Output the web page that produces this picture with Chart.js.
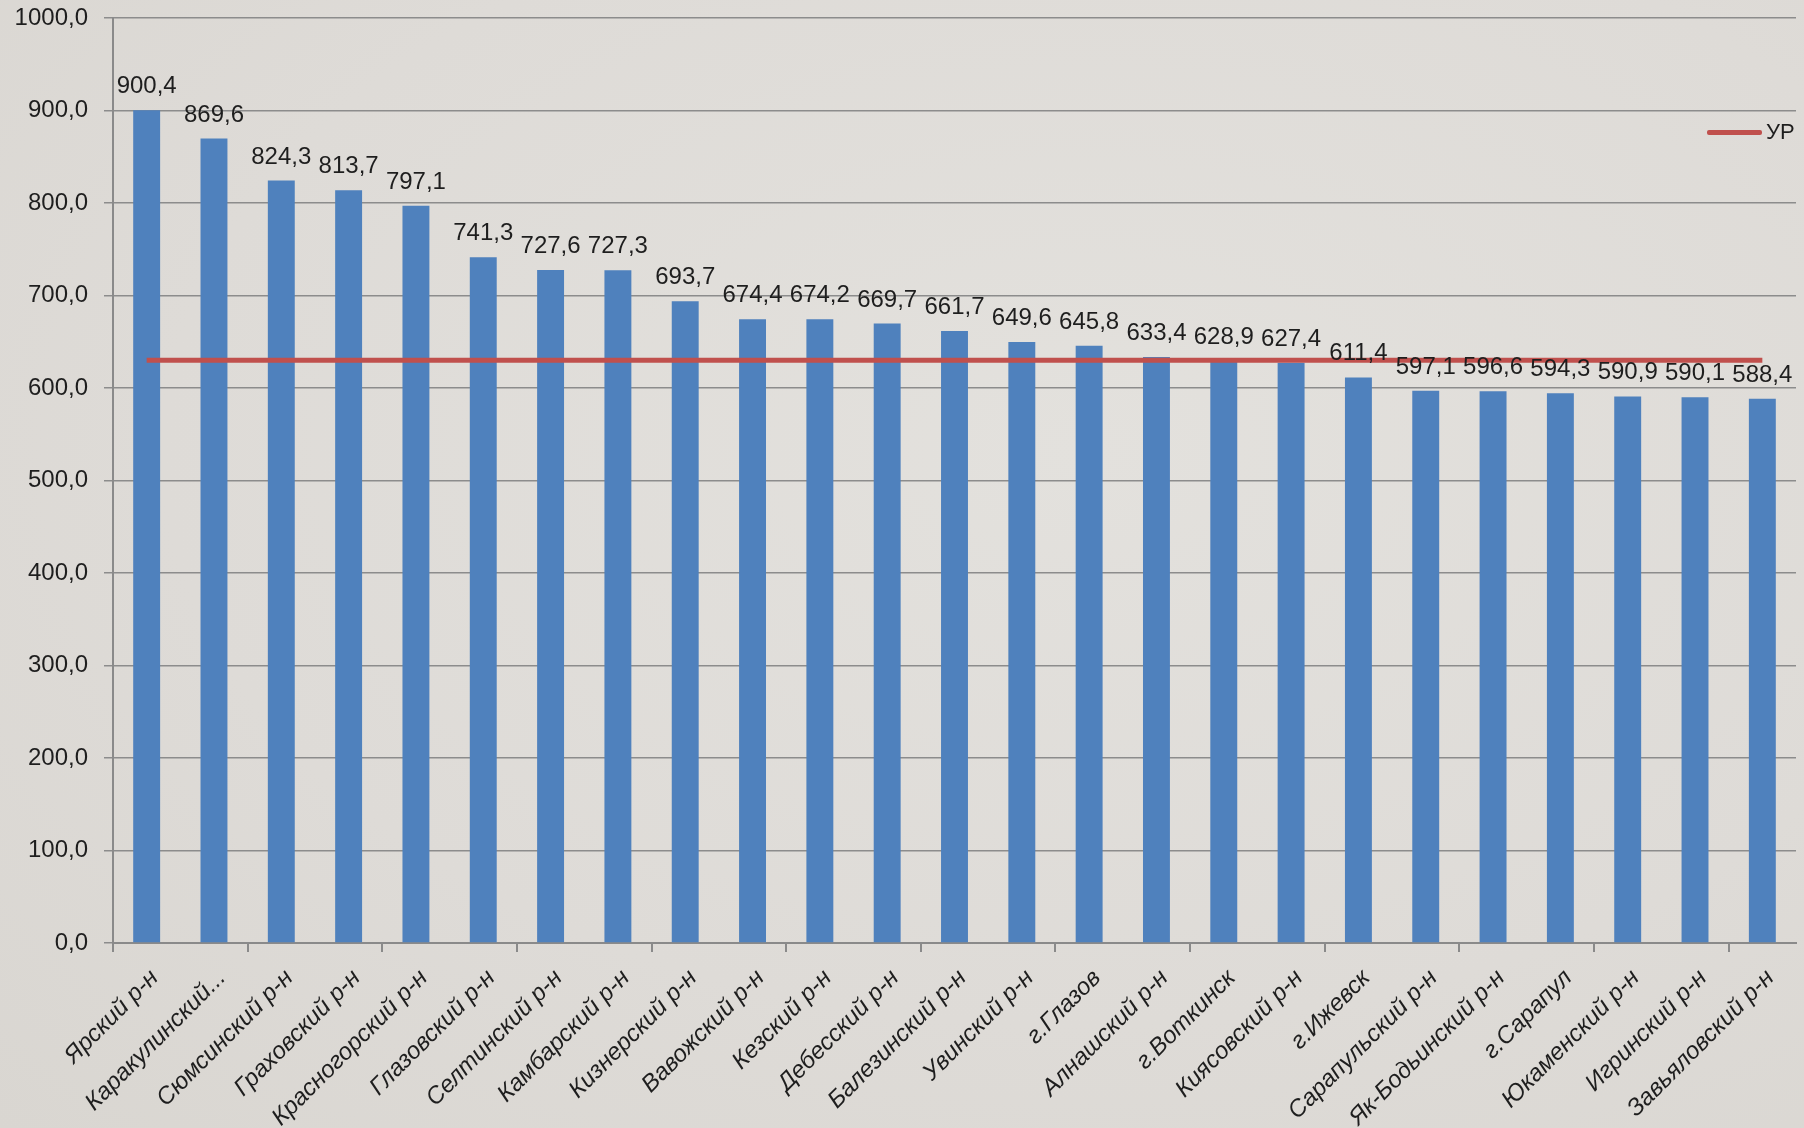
<!DOCTYPE html>
<html>
<head>
<meta charset="utf-8">
<script src="https://cdn.jsdelivr.net/npm/chart.js@4.4.0/dist/chart.umd.min.js"></script>
<style>
  html, body { margin: 0; padding: 0; }
  body {
    width: 1804px; height: 1128px; overflow: hidden;
    background: radial-gradient(ellipse at 60% 40%, #e3e1dd 0%, #dedbd7 60%, #d9d6d1 100%);
    font-family: "Liberation Sans", Arial, sans-serif;
  }
  #wrap { position: relative; width: 1804px; height: 1128px; }
  #legend {
    position: absolute; left: 1707px; top: 119px;
    display: flex; align-items: center; font-size: 22px; color: #1e1e1e;
  }
  #legend span.swatch {
    display: inline-block; width: 55px; height: 5px; background: #c0504d;
    border-radius: 2px; margin-right: 4px;
  }
</style>
</head>
<body>
<div id="wrap">
  <canvas id="chart" width="1804" height="1128"></canvas>
  <div id="legend"><span class="swatch"></span><span>УР</span></div>
</div>
<script>
// districts
const districts = [
  'Ярский р-н', 'Каракулинский...', 'Сюмсинский р-н', 'Граховский р-н', 'Красногорский р-н',
  'Глазовский р-н', 'Селтинский р-н', 'Камбарский р-н', 'Кизнерский р-н', 'Вавожский р-н',
  'Кезский р-н', 'Дебесский р-н', 'Балезинский р-н', 'Увинский р-н', 'г.Глазов',
  'Алнашский р-н', 'г.Воткинск', 'Киясовский р-н', 'г.Ижевск', 'Сарапульский р-н',
  'Як-Бодьинский р-н', 'г.Сарапул', 'Юкаменский р-н', 'Игринский р-н', 'Завьяловский р-н'
];

// values per district
const values = [
  900.4, 869.6, 824.3, 813.7, 797.1, 741.3, 727.6, 727.3, 693.7, 674.4,
  674.2, 669.7, 661.7, 649.6, 645.8, 633.4, 628.9, 627.4, 611.4, 597.1,
  596.6, 594.3, 590.9, 590.1, 588.4
];

// republic level (УР)
const republic = [
  630, 630, 630, 630, 630, 630, 630, 630, 630, 630,
  630, 630, 630, 630, 630, 630, 630, 630, 630, 630,
  630, 630, 630, 630, 630
];

const yTicks = [0, 100, 200, 300, 400, 500, 600, 700, 800, 900, 1000];

const comma = v => v.toFixed(1).replace('.', ',');

// value labels above bars
const barLabels = {
  id: 'barLabels',
  afterDatasetsDraw(chart) {
    const ctx = chart.ctx;
    const meta = chart.getDatasetMeta(0);
    ctx.save();
    ctx.font = '24px "Liberation Sans", Arial, sans-serif';
    ctx.fillStyle = '#1e1e1e';
    ctx.textAlign = 'center';
    ctx.textBaseline = 'alphabetic';
    meta.data.forEach((bar, i) => {
      ctx.fillText(comma(values[i]), bar.x, bar.y - 17);
    });
    ctx.restore();
  }
};

const ctx = document.querySelector('#chart').getContext('2d');

let chart = new Chart(ctx, {
  data: {
    labels: districts,
    datasets: [
      {
        type: 'bar',
        label: 'Районы',
        data: values,
        backgroundColor: '#4f81bd',
        barPercentage: 0.4,
        categoryPercentage: 1.0,
        order: 2
      },
      {
        type: 'line',
        label: 'УР',
        data: republic,
        borderColor: '#c0504d',
        borderWidth: 5,
        pointRadius: 0,
        fill: false,
        order: 1
      }
    ]
  },
  options: {
    responsive: false,
    animation: false,
    layout: { padding: { top: 18, right: 8, left: 0, bottom: 0 } },
    plugins: {
      legend: { display: false },
      tooltip: { enabled: false }
    },
    scales: {
      x: {
        offset: true,
        afterFit: scale => {
          scale.height = 185;
          scale.paddingLeft = 0;
          scale.paddingRight = 0;
        },
        grid: {
          offset: true,
          drawOnChartArea: false,
          drawTicks: true,
          tickLength: 9,
          lineWidth: 2,
          color: c => (c.index % 2 === 0 ? '#8a8a8a' : 'rgba(0,0,0,0)')
        },
        border: { color: '#8a8a8a', width: 2 },
        ticks: {
          autoSkip: false,
          maxRotation: 45,
          minRotation: 45,
          padding: 12,
          labelOffset: 8,
          color: '#1e1e1e',
          font: { family: '"Liberation Sans", Arial, sans-serif', size: 24, style: 'italic' }
        }
      },
      y: {
        min: 0,
        max: 1000,
        afterFit: scale => {
          scale.width = 113;
          scale.paddingTop = 0;
          scale.paddingBottom = 0;
        },
        afterBuildTicks: scale => { scale.ticks = yTicks.map(v => ({ value: v })); },
        grid: {
          color: '#8c8c8c',
          lineWidth: 1.5,
          tickLength: 9
        },
        border: { color: '#8a8a8a', width: 2 },
        ticks: {
          padding: 16,
          color: '#1e1e1e',
          font: { family: '"Liberation Sans", Arial, sans-serif', size: 24 },
          callback: v => comma(v)
        }
      }
    }
  },
  plugins: [barLabels]
});
</script>
</body>
</html>
